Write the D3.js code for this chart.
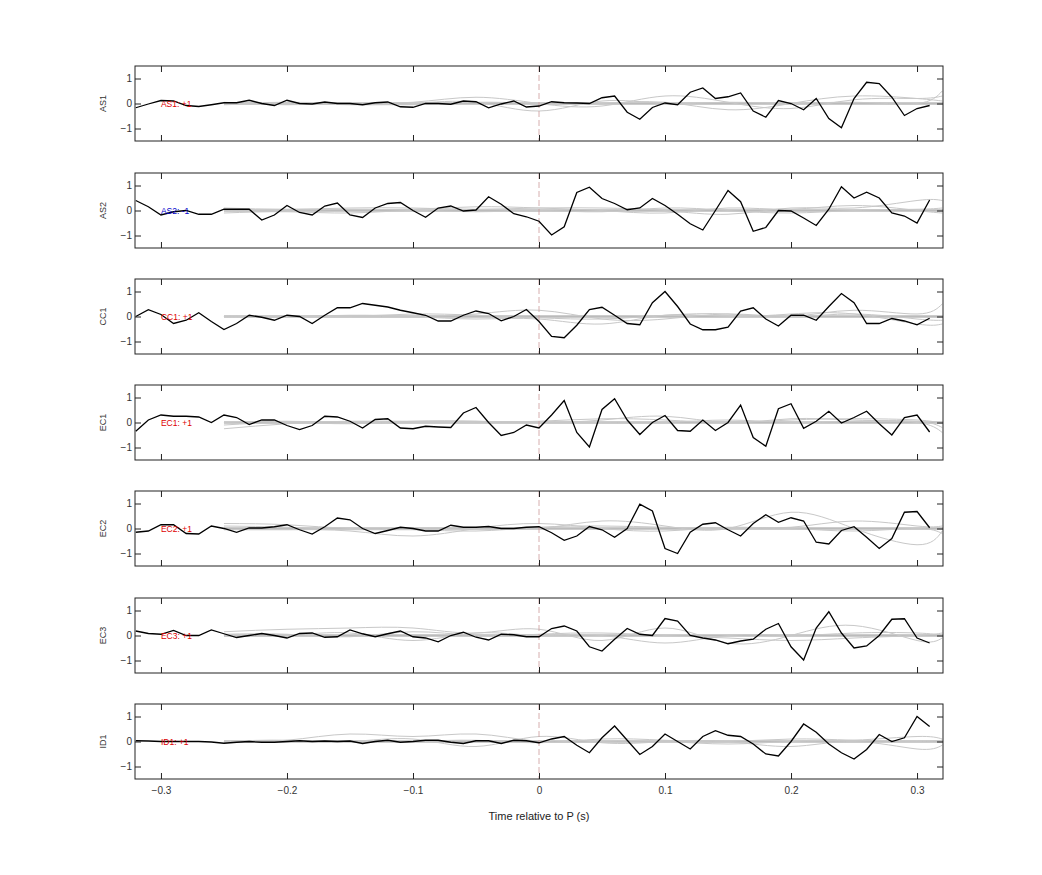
<!DOCTYPE html>
<html>
<head>
<meta charset="utf-8">
<script src="https://cdn.jsdelivr.net/npm/d3@7"></script>
<style>
body { margin: 0; background: #fff; }
text { font-family: "Liberation Sans", Arial, sans-serif; }
</style>
</head>
<body>
<svg id="chart" width="1042" height="875"></svg>
<script>
// channel names, polarity labels
const channels = ["AS1", "AS2", "CC1", "EC1", "EC2", "EC3", "ID1"];
const polarity = ["+1", "-1", "+1", "+1", "+1", "+1", "+1"];
const xTicks = [-0.3, -0.2, -0.1, 0, 0.1, 0.2, 0.3];
const yTicks = [-1, 0, 1];

// time samples for the black traces (-0.32 .. 0.31, step 0.01)
const times = d3.range(64).map(i => Math.round((-0.32 + i * 0.01) * 100) / 100);

const as1 = [-0.17,-0.02,0.12,0.1,-0.08,-0.12,-0.05,0.03,0.03,0.13,0.0,-0.08,0.13,0.0,-0.02,0.06,0.0,0.0,-0.05,0.03,0.06,-0.13,-0.15,0.0,0.0,-0.03,0.1,0.07,-0.17,-0.02,0.1,-0.14,
  -0.1,0.07,0.03,0.02,0.0,0.23,0.3,-0.35,-0.63,-0.16,0.02,-0.05,0.45,0.62,0.2,0.27,0.42,-0.3,-0.55,0.12,0.0,-0.25,0.2,-0.6,-0.97,0.2,0.85,0.8,0.25,-0.48,-0.2,-0.08];
const as2 = [0.4,0.15,-0.18,-0.05,0.0,-0.15,-0.15,0.05,0.05,0.05,-0.38,-0.18,0.2,-0.08,-0.18,0.18,0.3,-0.18,-0.28,0.1,0.28,0.32,0.0,-0.27,0.1,0.18,-0.02,0.02,0.55,0.25,-0.13,-0.25,
  -0.43,-0.98,-0.65,0.72,0.93,0.48,0.28,0.03,0.1,0.48,0.2,-0.15,-0.53,-0.78,0.0,0.8,0.35,-0.83,-0.68,0.0,-0.02,-0.3,-0.6,0.05,0.95,0.5,0.73,0.5,-0.1,-0.22,-0.5,0.42];
const cc1 = [0.0,0.27,0.08,-0.28,-0.15,0.15,-0.2,-0.52,-0.28,0.05,-0.03,-0.15,0.05,0.0,-0.28,0.05,0.35,0.35,0.52,0.45,0.38,0.25,0.15,0.05,-0.18,-0.18,0.05,0.22,0.12,-0.17,0.0,0.28,
  -0.2,-0.8,-0.85,-0.35,0.28,0.37,0.05,-0.28,-0.33,0.55,1.0,0.4,-0.3,-0.53,-0.53,-0.43,0.22,0.35,-0.1,-0.38,0.05,0.05,-0.15,0.4,0.92,0.55,-0.28,-0.28,-0.08,-0.18,-0.33,-0.07];
const ec1 = [-0.35,0.1,0.3,0.25,0.25,0.22,0.0,0.3,0.2,-0.08,0.1,0.1,-0.12,-0.28,-0.12,0.25,0.22,0.05,-0.22,0.12,0.15,-0.22,-0.25,-0.15,-0.18,-0.2,0.38,0.6,0.0,-0.52,-0.4,-0.1,
  -0.22,0.3,0.88,-0.4,-0.98,0.52,0.95,0.1,-0.48,0.0,0.28,-0.32,-0.35,0.1,-0.32,0.0,0.7,-0.6,-0.95,0.55,0.75,-0.23,0.05,0.45,-0.02,0.2,0.45,-0.05,-0.5,0.2,0.3,-0.38];
const ec2 = [-0.15,-0.1,0.15,0.15,-0.2,-0.22,0.1,0.0,-0.15,0.02,0.02,0.07,0.15,-0.05,-0.22,0.07,0.42,0.35,0.0,-0.2,-0.08,0.05,0.0,-0.1,-0.1,0.13,0.05,0.05,0.08,0.0,0.0,0.05,
  0.07,-0.17,-0.47,-0.3,0.08,-0.05,-0.35,0.0,0.97,0.7,-0.8,-1.0,-0.15,0.17,0.23,-0.05,-0.3,0.2,0.55,0.25,0.43,0.3,-0.55,-0.62,-0.08,0.07,-0.35,-0.8,-0.4,0.65,0.68,0.03];
const ec3 = [0.18,0.08,0.05,0.2,0.0,0.0,0.22,0.07,-0.08,0.0,0.08,0.0,-0.1,0.08,0.1,-0.07,-0.05,0.22,0.07,-0.05,0.07,0.18,-0.05,-0.1,-0.25,0.0,0.13,-0.07,-0.18,0.05,0.03,-0.05,
  -0.05,0.28,0.38,0.18,-0.45,-0.62,-0.15,0.28,0.05,0.0,0.68,0.58,0.0,-0.1,-0.18,-0.33,-0.22,-0.15,0.25,0.48,-0.45,-0.98,0.3,0.95,0.1,-0.5,-0.42,0.0,0.65,0.67,-0.1,-0.3];
const id1 = [0.03,0.02,0.0,0.0,0.0,0.0,-0.02,-0.07,-0.03,0.0,-0.03,-0.03,0.0,0.03,0.0,0.02,0.0,0.02,-0.08,0.0,0.05,-0.03,0.0,0.05,0.05,-0.03,-0.08,0.03,0.03,-0.08,0.05,0.03,
  -0.05,0.1,0.2,-0.15,-0.45,0.15,0.62,0.05,-0.52,-0.2,0.3,0.0,-0.3,0.2,0.43,0.25,0.2,-0.1,-0.5,-0.58,0.0,0.7,0.37,-0.1,-0.45,-0.7,-0.32,0.28,0.0,0.15,1.0,0.6];
const traces = [as1, as2, cc1, ec1, ec2, ec3, id1];

// faint grey overlay traces, sampled coarsely
const grayTimes = [-0.25,-0.2,-0.15,-0.1,-0.05,0,0.05,0.1,0.15,0.2,0.25,0.3,0.32];
const grayA = [
  [[0.05,-0.05,0.0,0.05,0.25,0.0,-0.1,0.3,0.05,-0.2,0.15,0.2,0.3],[-0.05,0.0,-0.05,0.0,0.05,-0.3,0.1,0.0,0.05,0.0,0.05,0.0,0.5],[0.0,0.05,0.0,-0.05,0.05,0.0,0.0,0.05,-0.25,0.0,0.3,0.2,0.1]],
  [[0.1,0.05,0.1,0.1,0.05,0.1,0.1,0.0,-0.15,0.1,0.1,0.4,0.4],[-0.1,-0.05,-0.1,0.0,-0.05,0.0,-0.05,0.1,0.0,-0.1,0.0,0.05,0.1],[0.0,0.0,0.05,0.05,0.15,0.1,0.0,-0.1,0.1,0.05,0.2,0.0,-0.1]],
  [[0.0,0.0,0.0,0.1,0.05,-0.05,-0.1,0.05,0.1,0.0,0.25,0.1,0.5],[0.0,0.0,0.0,0.0,0.1,0.25,-0.1,-0.1,0.1,0.0,0.1,-0.1,-0.15],[0.0,0.0,0.05,0.0,-0.1,-0.1,-0.3,0.05,0.0,0.1,0.1,-0.3,-0.3]],
  [[-0.25,-0.05,0.05,0.05,0.05,0.0,0.1,0.25,0.0,0.15,0.1,0.0,-0.4],[-0.1,0.0,-0.05,0.05,0.05,0.0,0.0,0.0,0.1,0.0,0.05,0.05,-0.2],[0.0,0.05,0.0,0.0,0.0,0.05,0.15,0.1,0.0,0.1,0.15,0.1,-0.05]],
  [[0.2,0.15,0.0,0.0,0.0,0.0,0.3,0.1,0.0,0.65,0.0,-0.65,-0.1],[-0.05,-0.05,-0.1,-0.3,0.0,0.2,0.0,-0.1,0.05,0.05,0.3,0.1,0.1],[0.1,0.05,-0.05,-0.05,-0.1,0.05,0.1,0.05,0.0,0.0,-0.1,0.0,-0.2]],
  [[0.15,0.25,0.3,0.3,0.1,0.25,-0.2,0.3,-0.3,0.0,0.4,-0.2,-0.1],[0.0,0.0,0.1,-0.2,0.1,0.0,0.0,-0.3,0.0,0.0,0.1,0.1,0.0],[0.05,0.05,-0.05,0.15,0.0,0.05,0.1,0.0,-0.1,-0.2,-0.1,0.0,0.1]],
  [[0.0,0.05,0.3,0.2,0.3,0.0,0.0,0.0,-0.1,0.0,0.05,0.2,0.1],[0.0,0.05,0.0,0.1,-0.2,0.2,-0.05,0.0,0.0,-0.2,0.0,-0.3,-0.15],[0.0,0.0,0.0,0.0,0.05,-0.05,0.1,0.05,0.0,0.1,0.05,0.0,0.05]]
];

const svg = d3.select("#chart");
const left = 135, right = 943, panelH = 75;
const tops = [66, 173, 279, 385, 491, 598, 704];

const x = d3.scaleLinear().domain([-0.3206, 0.3206]).range([left, right]);
const y = d3.scaleLinear().domain([-1.5, 1.5]).range([panelH, 0]);

const line = d3.line().x((d, i) => x(times[i])).y(d => y(d));
const grayLine = d3.line().x((d, i) => x(grayTimes[i])).y(d => y(d)).curve(d3.curveNatural);

channels.forEach((ch, p) => {
  const g = svg.append("g").attr("transform", `translate(0,${tops[p]})`);
  const clip = "clip" + p;
  g.append("clipPath").attr("id", clip).append("rect")
    .attr("x", left).attr("y", 0).attr("width", right - left).attr("height", panelH);
  const body = g.append("g").attr("clip-path", `url(#${clip})`);

  // flat grey baseline and faint overlay traces
  body.append("line").attr("x1", x(-0.25)).attr("x2", right)
    .attr("y1", y(0)).attr("y2", y(0)).attr("stroke", "#bbb").attr("stroke-width", 2.5);
  grayA[p].forEach(s => {
    body.append("path").attr("d", grayLine(s)).attr("fill", "none")
      .attr("stroke", "#c8c8c8").attr("stroke-width", 1);
  });

  // zero time marker
  body.append("line").attr("x1", x(0)).attr("x2", x(0)).attr("y1", 0).attr("y2", panelH)
    .attr("stroke", "#c99").attr("stroke-width", 0.8).attr("stroke-dasharray", "6,3");

  body.append("path").attr("d", line(traces[p])).attr("fill", "none")
    .attr("stroke", "#000").attr("stroke-width", 1.3);

  g.append("text").attr("x", x(-0.3)).attr("y", y(0) + 3)
    .attr("font-size", 8.5).attr("fill", polarity[p] === "-1" ? "#00c" : "#d00")
    .text(`${ch}: ${polarity[p]}`);

  // axes with inward ticks
  const ax = g.append("g").attr("transform", `translate(0,${panelH})`)
    .call(d3.axisBottom(x).tickValues(xTicks).tickSizeInner(-6).tickSizeOuter(0).tickFormat(p === 6 ? d3.format("") : ""));
  g.append("g").call(d3.axisTop(x).tickValues(xTicks).tickSizeInner(-6).tickSizeOuter(0).tickFormat(""));
  g.append("g").attr("transform", `translate(${left},0)`)
    .call(d3.axisLeft(y).tickValues(yTicks).tickSizeInner(-6).tickSizeOuter(0).tickFormat(d3.format("d")));
  g.append("g").attr("transform", `translate(${right},0)`)
    .call(d3.axisRight(y).tickValues(yTicks).tickSizeInner(-6).tickSizeOuter(0).tickFormat(""));
  g.selectAll(".domain").remove();
  g.selectAll(".tick text").attr("font-size", 10).attr("fill", "#333")
    .attr("font-family", "Liberation Sans, Arial, sans-serif");
  g.selectAll(".tick line").attr("stroke", "#222");
  ax.selectAll(".tick text").attr("dy", "1.2em");
  g.append("rect").attr("x", left).attr("y", 0).attr("width", right - left).attr("height", panelH)
    .attr("fill", "none").attr("stroke", "#222").attr("stroke-width", 1);

  g.append("text").attr("transform", `translate(106,${y(0)}) rotate(-90)`)
    .attr("text-anchor", "middle").attr("font-size", 9).attr("fill", "#333").text(ch);
});

svg.append("text").attr("x", x(0)).attr("y", 820).attr("text-anchor", "middle")
  .attr("font-size", 11).attr("fill", "#222").text("Time relative to P (s)");
</script>
</body>
</html>
